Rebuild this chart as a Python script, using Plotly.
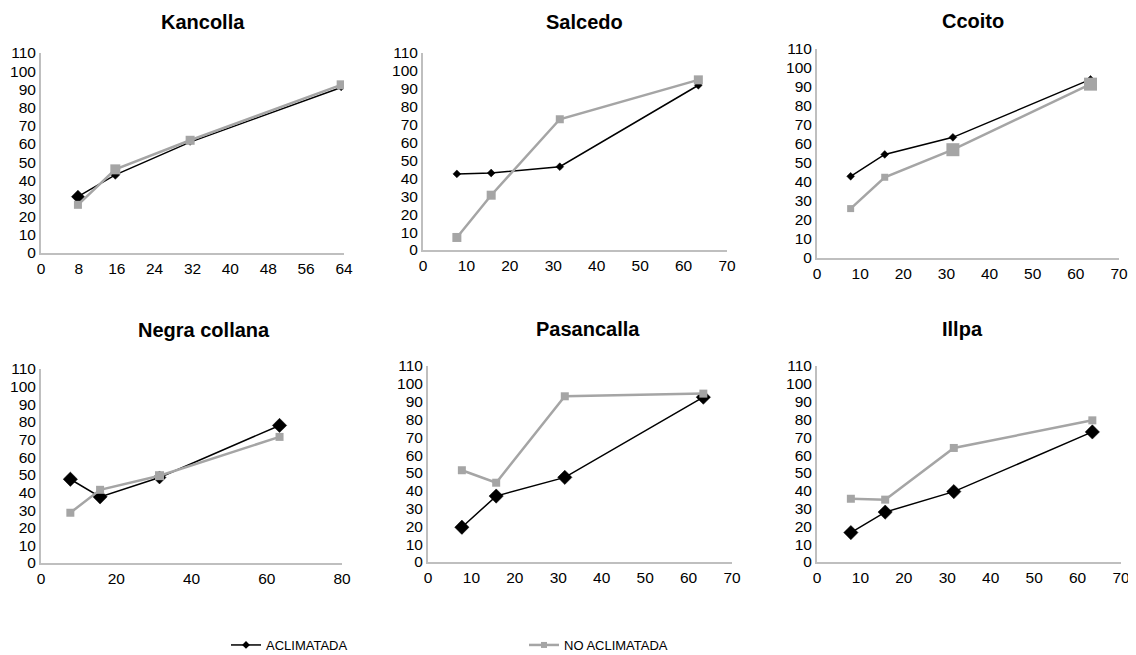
import plotly.graph_objects as go

# the page adds an 8px body margin, so the figure is drawn 8px in from the top-left
OFF = 8
W, H = 1136 - OFF, 655 - OFF

panels = ["Kancolla", "Salcedo", "Ccoito", "Negra collana", "Pasancalla", "Illpa"]
x_vals = [7.8, 15.7, 31.5, 63.4]

acl_kancolla = [31, 43, 61, 91]
noacl_kancolla = [26.5, 46, 62, 92.5]
acl_salcedo = [42.5, 43, 46.5, 92]
noacl_salcedo = [7, 30.6, 73, 95]
acl_ccoito = [43, 54.5, 63.5, 94]
noacl_ccoito = [26, 42.5, 57, 91.5]
acl_negra = [47.5, 37.5, 48.5, 78]
noacl_negra = [28.5, 41.5, 49.5, 71.5]
acl_pasancalla = [19.5, 37, 47.5, 92.5]
noacl_pasancalla = [51.5, 44.5, 93, 94.5]
acl_illpa = [16.5, 28, 39.5, 73]
noacl_illpa = [35.5, 35, 64, 79.5]

acl = [acl_kancolla, acl_salcedo, acl_ccoito, acl_negra, acl_pasancalla, acl_illpa]
noacl = [noacl_kancolla, noacl_salcedo, noacl_ccoito, noacl_negra, noacl_pasancalla, noacl_illpa]

x_ranges = [[0, 64], [0, 70], [0, 70], [0, 80], [0, 70], [0, 70]]
x_dticks = [8, 10, 10, 20, 10, 10]

# pixel boxes in the page: x0, x1, y_top, y_bottom
boxes = [(41, 344, 53, 253), (423, 727, 53, 250), (817, 1119, 49, 258),
         (41, 342, 369, 563), (428, 732, 366, 562), (817, 1121, 366, 562)]
title_pos = [(203, 22), (585, 22), (973, 21), (204, 330), (588, 329), (962, 329)]

# styles
acl_sizes = [[10, 7, 5, 5], [6, 6, 6, 6], [6, 6, 6, 6], [11, 11, 10, 11], [11, 11, 11, 11], [11, 11, 11, 11]]
noacl_sizes = [[8, 10, 9, 9], [9, 9, 8, 9], [7, 7, 13, 13], [8, 8, 9, 8], [8, 8, 8, 8], [8, 8, 8, 8]]

BLACK = "#000000"
GRAY = "#a5a5a5"
AXIS = "#bfbfbf"
FONT = "Liberation Sans, Arial, sans-serif"


def px(x):
    return (x - OFF) / W


def py(y):
    return 1 - (y - OFF) / H


fig = go.Figure()
annotations = []
for i, name in enumerate(panels):
    k = "" if i == 0 else str(i + 1)
    x0, x1, yt, yb = boxes[i]
    fig.add_trace(go.Scatter(
        x=x_vals, y=acl[i], mode="lines+markers", name="ACLIMATADA",
        line=dict(color=BLACK, width=1.5),
        marker=dict(symbol="diamond", size=acl_sizes[i], color=BLACK, opacity=1,
                    line=dict(width=0.5, color=BLACK)),
        xaxis="x" + k, yaxis="y" + k, showlegend=False))
    fig.add_trace(go.Scatter(
        x=x_vals, y=noacl[i], mode="lines+markers", name="NO ACLIMATADA",
        line=dict(color=GRAY, width=2.5),
        marker=dict(symbol="square", size=noacl_sizes[i], color=GRAY, opacity=1,
                    line=dict(width=0)),
        xaxis="x" + k, yaxis="y" + k, showlegend=False))
    fig.layout["xaxis" + k] = dict(
        domain=[px(x0), px(x1)], range=x_ranges[i], dtick=x_dticks[i], tick0=0,
        showgrid=False, zeroline=False, showline=True, linecolor=AXIS, linewidth=2,
        ticks="", tickfont=dict(family=FONT, size=15.5, color="#000"),
        anchor="y" + k, fixedrange=True, automargin=False)
    fig.layout["yaxis" + k] = dict(
        domain=[py(yb), py(yt)], range=[0, 110], dtick=10, tick0=0,
        showgrid=False, zeroline=False, showline=True, linecolor=AXIS, linewidth=2,
        ticks="", tickfont=dict(family=FONT, size=15.5, color="#000"),
        anchor="x" + k, fixedrange=True, automargin=False)
    tx, ty = title_pos[i]
    annotations.append(dict(
        text="<b>" + name + "</b>", x=px(tx), y=py(ty), xref="paper", yref="paper",
        xanchor="center", yanchor="middle", showarrow=False,
        font=dict(family=FONT, size=20, color="#000")))

# legend-only entries (small symbols, as in the reference legend)
fig.add_trace(go.Scatter(x=[None], y=[None], mode="lines+markers", name="ACLIMATADA",
                         line=dict(color=BLACK, width=1.5),
                         marker=dict(symbol="diamond", size=6, color=BLACK), showlegend=True))
fig.add_trace(go.Scatter(x=[None], y=[None], mode="lines+markers", name="NO ACLIMATADA",
                         line=dict(color=GRAY, width=2.5),
                         marker=dict(symbol="square", size=6, color=GRAY), showlegend=True))

fig.update_layout(
    width=W, height=H, margin=dict(l=0, r=0, t=0, b=0, autoexpand=False),
    paper_bgcolor="white", plot_bgcolor="white",
    annotations=annotations,
    legend=dict(orientation="h", x=px(226), y=py(645), xanchor="left", yanchor="middle",
                entrywidth=253, entrywidthmode="pixels",
                font=dict(family="Liberation Sans Narrow, Arial Narrow, " + FONT, size=13, color="#000")),
    showlegend=True,
)

fig.write_html("out.html")
